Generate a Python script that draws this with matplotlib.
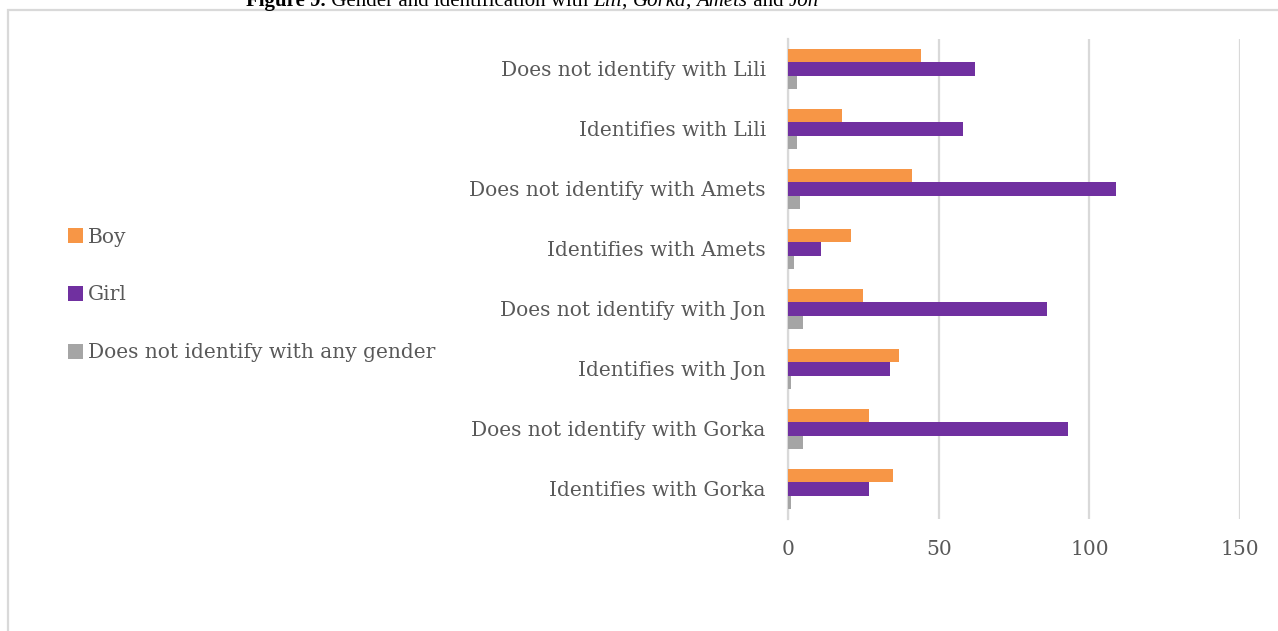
import matplotlib
matplotlib.use("Agg")
import matplotlib.pyplot as plt
import numpy as np
from matplotlib.patches import Rectangle

# Categories listed bottom to top
categories = [
    "Identifies with Gorka",
    "Does not identify with Gorka",
    "Identifies with Jon",
    "Does not identify with Jon",
    "Identifies with Amets",
    "Does not identify with Amets",
    "Identifies with Lili",
    "Does not identify with Lili",
]
boy = [35, 27, 37, 25, 21, 41, 18, 44]
girl = [27, 93, 34, 86, 11, 109, 58, 62]
no_gender = [1, 5, 1, 5, 2, 4, 3, 3]

series_names = ["Boy", "Girl", "Does not identify with any gender"]
colors = ["#F79646", "#7030A0", "#A5A5A5"]
x_ticks = [0, 50, 100, 150]

W, H = 1278, 631
fig = plt.figure(figsize=(W / 100, H / 100), dpi=100)
fig.patch.set_facecolor("white")

FONT = "DejaVu Serif"
TXT = "#595959"
GRID = "#D9D9D9"
FS = 14.5

ax = fig.add_axes([788 / W, 1 - 519 / H, (1240 - 788) / W, (519 - 39) / H])

y = np.arange(len(categories))
h = 0.225
off = 0.225
ax.barh(y + off, boy, height=h, color=colors[0], label=series_names[0], zorder=3)
ax.barh(y, girl, height=h, color=colors[1], label=series_names[1], zorder=3)
ax.barh(y - off, no_gender, height=h, color=colors[2], label=series_names[2], zorder=3)

ax.set_xlim(0, 150)
ax.set_ylim(-0.5, len(categories) - 0.5)
ax.set_xticks(x_ticks)
ax.set_xticklabels([str(t) for t in x_ticks])
ax.set_yticks(y)
ax.set_yticklabels(categories)
ax.xaxis.grid(True, color=GRID, linewidth=1.6, zorder=0)
ax.set_axisbelow(True)
for s in ["top", "right", "bottom"]:
    ax.spines[s].set_visible(False)
ax.spines["left"].set_color(GRID)
ax.spines["left"].set_linewidth(1.6)
ax.tick_params(axis="both", length=0, labelcolor=TXT, labelsize=FS)
ax.tick_params(axis="x", pad=15)
ax.tick_params(axis="y", pad=16)
for lab in ax.get_xticklabels() + ax.get_yticklabels():
    lab.set_fontfamily(FONT)

handles, labels = ax.get_legend_handles_labels()
leg = fig.legend(
    handles, labels, loc="center left", bbox_to_anchor=(68 / W, 1 - 295 / H),
    frameon=False, borderpad=0, borderaxespad=0, labelspacing=1.92,
    handlelength=0.75, handleheight=0.75, handletextpad=0.25,
    prop={"family": FONT, "size": FS},
)
for t in leg.get_texts():
    t.set_color(TXT)

# Chart frame
fig.patches.append(Rectangle((8 / W, -0.1), 1.2, 1 - 10 / H + 0.1,
                             transform=fig.transFigure, fill=False,
                             edgecolor=GRID, linewidth=1.6))

# Caption, mixed bold / regular / italic pieces
pieces = [
    ("Figure 9.", "bold", "normal"),
    (" Gender and identification with ", "normal", "normal"),
    ("Lili", "normal", "italic"),
    (", ", "normal", "normal"),
    ("Gorka", "normal", "italic"),
    (", ", "normal", "normal"),
    ("Amets", "normal", "italic"),
    (" and ", "normal", "normal"),
    ("Jon", "normal", "italic"),
]
renderer = fig.canvas.get_renderer()
x_px = 246
y_base = 1 - 6 / H
for text, weight, style in pieces:
    t = fig.text(x_px / W, y_base, text, fontfamily="Liberation Serif",
                 fontsize=15.0, fontweight=weight, fontstyle=style,
                 color="black", va="baseline", ha="left")
    bb = t.get_window_extent(renderer)
    x_px += bb.width

fig.savefig("out.png", dpi=100, facecolor="white")
